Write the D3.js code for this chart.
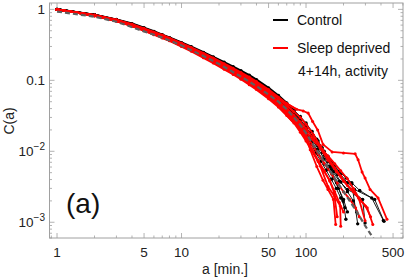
<!DOCTYPE html>
<html><head><meta charset="utf-8">
<script src="https://cdn.jsdelivr.net/npm/d3@7"></script>
<style>body{margin:0;background:#fff}svg{display:block;font-family:"Liberation Sans",Arial,sans-serif}</style>
</head><body><svg id="c" width="407" height="278"></svg>
<script>
// ---- data ----
const bodyA = [1,2,3,4,5,6,7,8,10,12,15,18,22,26,30,35,40,50,60,70];

const controlBody = [
  [1,.84,.72,.63,.55,.49,.44,.40,.34,.297,.248,.214,.18,.156,.137,.118,.102,.078,.061,.048],
  [1,.83,.71,.615,.535,.475,.43,.39,.33,.285,.237,.204,.17,.146,.127,.109,.094,.072,.056,.044],
  [1,.83,.70,.60,.52,.46,.415,.38,.322,.278,.23,.198,.165,.142,.124,.106,.092,.07,.054,.042],
  [1,.82,.695,.595,.515,.455,.41,.375,.318,.274,.226,.193,.16,.137,.119,.101,.087,.066,.05,.039],
  [1,.83,.705,.605,.525,.465,.42,.385,.326,.282,.234,.2,.167,.144,.125,.107,.093,.071,.055,.043],
  [1,.82,.69,.59,.51,.45,.405,.37,.312,.268,.222,.19,.157,.134,.116,.098,.084,.063,.048,.037],
  [1,.835,.715,.62,.54,.48,.435,.395,.335,.29,.243,.21,.175,.151,.132,.113,.098,.075,.058,.046],
  [1,.825,.70,.6,.52,.462,.416,.38,.32,.276,.228,.195,.162,.139,.121,.103,.089,.068,.052,.041]
];
const controlTail = [
  [[80,.038],[90,.031],[100,.025],[112,.019],[125,.014],[140,.01],[160,.0072],[185,.0052],[210,.0042],[233,.0036],[270,.0028],[337,.0022],[418,.00106]],
  [[80,.035],[90,.028],[100,.022],[112,.0165],[125,.012],[140,.0088],[160,.0062],[180,.0047],[200,.0038],[233,.0035],[260,.00095]],
  [[80,.032],[90,.025],[100,.0195],[112,.0145],[125,.0108],[140,.0078],[160,.0055],[185,.0038],[215,.0029],[250,.0025],[285,.0021],[298,.00098]],
  [[80,.03],[90,.023],[100,.0175],[112,.0128],[125,.0092],[140,.0066],[156,.0061],[176,.0036],[199,.002],[209,.0011]],
  [[80,.034],[90,.027],[100,.021],[110,.0168],[122,.0128],[135,.0096],[150,.0072],[168,.0052],[190,.0037],[215,.0027],[240,.002],[255,.0014]],
  [[80,.029],[90,.022],[100,.0165],[110,.0125],[120,.0095],[132,.0072],[145,.0054],[160,.004],[175,.003],[190,.0022],[205,.0016]],
  [[80,.037],[90,.03],[100,.024],[110,.019],[122,.0148],[135,.0112],[150,.0085],[168,.0063],[190,.0047],[215,.0036],[245,.0029],[356,.0021],[423,.00103]],
  [[80,.031],[90,.024],[100,.0185],[110,.014],[122,.0105],[135,.0078],[150,.0057],[165,.0042],[182,.003],[200,.0021],[215,.0014]]
];

const sleepBody = [
  [1,.835,.715,.62,.54,.48,.435,.395,.335,.29,.241,.207,.172,.148,.129,.111,.096,.074,.058,.047],
  [1,.82,.69,.59,.51,.452,.406,.37,.31,.266,.219,.187,.154,.131,.113,.096,.083,.062,.047,.036],
  [1,.815,.685,.585,.505,.445,.40,.365,.305,.262,.213,.18,.147,.125,.107,.09,.077,.058,.044,.034],
  [1,.825,.70,.60,.52,.46,.415,.378,.318,.273,.225,.192,.158,.135,.117,.1,.087,.066,.051,.04],
  [1,.83,.71,.61,.53,.47,.425,.388,.328,.283,.234,.2,.166,.142,.124,.106,.092,.07,.055,.044],
  [1,.81,.68,.58,.5,.44,.395,.36,.3,.256,.208,.175,.143,.121,.104,.087,.074,.055,.042,.032],
  [1,.82,.695,.595,.515,.455,.41,.373,.313,.269,.221,.188,.155,.132,.114,.097,.084,.063,.048,.037],
  [1,.825,.70,.60,.518,.458,.413,.376,.316,.272,.224,.191,.157,.134,.116,.099,.085,.064,.049,.038],
  [1,.815,.69,.59,.508,.448,.403,.367,.307,.264,.217,.185,.152,.129,.111,.094,.081,.061,.046,.035]
];
const sleepTail = [
  [[84,.039],[95,.037],[104,.0346],[113,.0263],[124,.020],[137,.0125],[162,.0098],[200,.0095],[248,.0092],[262,.0076],[282,.0051],[298,.0042],[327,.0029],[379,.0022],[447,.0011]],
  [[80,.028],[90,.021],[100,.016],[108,.0105],[122,.0061],[137,.0039],[150,.0029],[166,.0021],[173,.00093]],
  [[80,.026],[90,.02],[100,.0155],[115,.0098],[130,.0062],[150,.0032],[170,.0023],[188,.0017],[190,.00088]],
  [[80,.032],[90,.026],[100,.021],[115,.015],[130,.011],[150,.0075],[175,.0052],[200,.0038],[230,.0029],[270,.0021],[310,.0016],[344,.00093]],
  [[80,.036],[90,.03],[100,.024],[115,.017],[130,.012],[150,.0082],[170,.0058],[190,.0045],[215,.0033],[240,.0027],[265,.0022],[298,.00105]],
  [[80,.025],[90,.0185],[100,.014],[110,.0105],[125,.0072],[140,.0052],[155,.0039],[168,.0026],[178,.0012]],
  [[80,.029],[90,.022],[100,.017],[112,.0125],[125,.0092],[140,.0068],[160,.0048],[180,.0035],[200,.0027],[225,.0021],[250,.0016],[268,.0012]],
  [[80,.03],[90,.024],[100,.019],[110,.015],[120,.0132],[135,.0105],[150,.0086],[170,.0067],[190,.0053],[215,.0041],[240,.003],[265,.0022],[300,.0017],[330,.0012]],
  [[80,.027],[90,.02],[100,.0148],[112,.0105],[125,.0075],[140,.0053],[155,.0038],[170,.0027],[185,.0019],[200,.0014]]
];

const fitA = [1,2,3,5,7,10,15,20,30,40,50,60,70,80,90,100,120,150,200,250,300,350,400];
const fitC = [.93,.79,.67,.49,.4,.31,.22,.17,.113,.083,.063,.05,.039,.03,.0235,.018,.0108,.0059,.0027,.0015,.00088,.00058,.0004];

const xTickVals = [1,5,10,50,100,500];
const yTickVals = [1,0.1,0.01,0.001];
const legendLabels = ["Control","Sleep deprived","4+14h, activity"];

// ---- drawing ----
const svg = d3.select("#c");
const L=49.5,R=403,T=3,B=238;
const x = d3.scaleLog().domain([0.87,601]).range([L,R]);
const y = d3.scaleLog().domain([6e-4,1.23]).range([B,T]);

svg.append("clipPath").attr("id","clip").append("rect")
  .attr("x",L).attr("y",T).attr("width",R-L).attr("height",B-T);
const plot = svg.append("g").attr("clip-path","url(#clip)");
const line = d3.line().x(d=>x(d[0])).y(d=>y(d[1]));

function drawCurve(body, tail, color, wBody, wTail, r){
  const pts = bodyA.map((a,i)=>[a,body[i]]).concat(tail);
  const n = bodyA.length;
  plot.append("path").attr("d",line(pts.slice(0,n+1))).attr("fill","none")
    .attr("stroke",color).attr("stroke-width",wBody).attr("stroke-linejoin","round");
  plot.append("path").attr("d",line(pts.slice(n-1))).attr("fill","none")
    .attr("stroke",color).attr("stroke-width",wTail).attr("stroke-linejoin","round");
  plot.append("g").selectAll("circle").data(pts).join("circle")
    .attr("cx",d=>x(d[0])).attr("cy",d=>y(d[1])).attr("r",r).attr("fill",color);
}
controlBody.forEach((b,i)=>drawCurve(b,controlTail[i],"#000",2.2,0.9,1.7));
sleepBody.forEach((b,i)=>drawCurve(b,sleepTail[i],"#ff0000",2,1.8,1.5));

plot.append("path").attr("d",line(fitA.map((a,i)=>[a,fitC[i]])))
  .attr("fill","none").attr("stroke","#5e5e5e").attr("stroke-width",2.2).attr("stroke-dasharray","5,3");

// frame
const frameCol="#a0a0a0";
svg.append("rect").attr("x",L).attr("y",T).attr("width",R-L).attr("height",B-T)
  .attr("fill","none").attr("stroke",frameCol).attr("stroke-width",1);

const tg = svg.append("g").attr("stroke",frameCol).attr("stroke-width",0.8);
for(let e=-4;e<=0;e++){
  for(let k=1;k<=9;k++){
    const v=k*Math.pow(10,e);
    if(v<6e-4||v>1.23) continue;
    const len = k===1?5:2.5;
    const yy=y(v);
    tg.append("line").attr("x1",L).attr("x2",L+len).attr("y1",yy).attr("y2",yy);
    tg.append("line").attr("x1",R).attr("x2",R-len).attr("y1",yy).attr("y2",yy);
  }
}
for(let e=-1;e<=2;e++){
  for(let k=1;k<=9;k++){
    const v=k*Math.pow(10,e);
    if(v<0.87||v>601) continue;
    const len = xTickVals.includes(v)?5:2.5;
    const xx=x(v);
    tg.append("line").attr("x1",xx).attr("x2",xx).attr("y1",B).attr("y2",B-len);
    tg.append("line").attr("x1",xx).attr("x2",xx).attr("y1",T).attr("y2",T+len);
  }
}
svg.append("g").selectAll("text").data(xTickVals).join("text")
  .attr("x",d=>x(d)).attr("y",257).attr("text-anchor","middle")
  .attr("font-size",13.5).attr("fill","#222").text(d=>d);
yTickVals.forEach(v=>{
  const t = svg.append("text").attr("x",45).attr("y",y(v)+5).attr("text-anchor","end")
    .attr("font-size",13.5).attr("fill","#222");
  if(v>=0.1){ t.text(v===1?"1":"0.1"); }
  else {
    const e=Math.round(Math.log10(v));
    t.append("tspan").text("10");
    t.append("tspan").attr("dy",-6).attr("font-size",10).text("\u2212"+(-e));
  }
});
svg.append("text").attr("x",225).attr("y",274).attr("text-anchor","middle")
  .attr("font-size",14).attr("fill","#222").text("a [min.]");
svg.append("text").attr("transform","translate(14,121) rotate(-90)").attr("text-anchor","middle")
  .attr("font-size",14).attr("fill","#222").text("C(a)");
svg.append("text").attr("x",66).attr("y",213).attr("font-size",28).attr("fill","#111").text("(a)");
svg.append("line").attr("x1",273).attr("x2",288).attr("y1",20).attr("y2",20).attr("stroke","#000").attr("stroke-width",2);
svg.append("line").attr("x1",273).attr("x2",288).attr("y1",48).attr("y2",48).attr("stroke","#ff0000").attr("stroke-width",2);
svg.append("text").attr("x",297).attr("y",25).attr("font-size",14).attr("fill","#111").text(legendLabels[0]);
svg.append("text").attr("x",297).attr("y",53).attr("font-size",14).attr("fill","#111").text(legendLabels[1]);
svg.append("text").attr("x",298).attr("y",76).attr("font-size",14).attr("fill","#111").text(legendLabels[2]);
</script></body></html>
